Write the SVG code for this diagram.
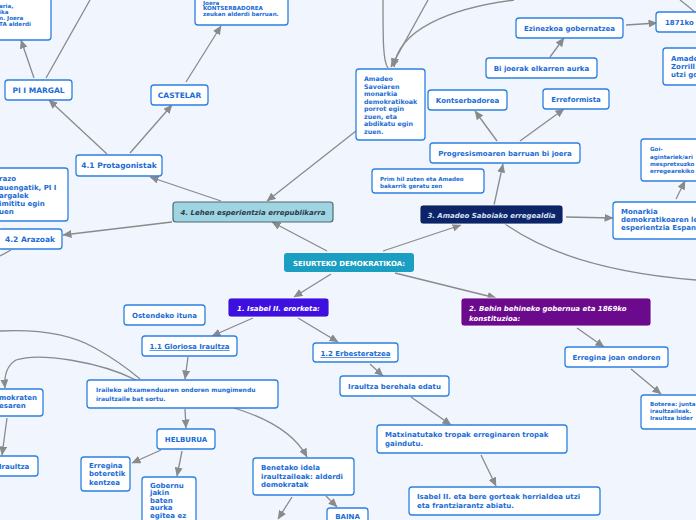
<svg xmlns="http://www.w3.org/2000/svg" width="696" height="520" viewBox="0 0 696 520">
<defs>
<marker id="arr" markerUnits="userSpaceOnUse" markerWidth="9" markerHeight="8" viewBox="0 0 9 8" refX="8.5" refY="4" orient="auto">
<path d="M0,0 L9,4 L0,8 Z" fill="#8a8a8a"/>
</marker>
<style>
.n{fill:#fff;stroke:#2b80e2;stroke-width:1.3}
.t{font-family:"DejaVu Sans",Verdana,sans-serif;font-weight:bold;fill:#1a6cd6;font-size:7px}
.s{font-size:5.6px}
.c{text-anchor:middle}
.u{text-decoration:underline}
.e{fill:none;stroke:#8a8a8a;stroke-width:1.3}
.a{marker-end:url(#arr)}
.w{fill:#fff;font-style:italic}
</style>
</defs>
<rect width="696" height="520" fill="#f1f5fd"/>
<g id="connectors">
<path class="e a" d="M327,251 L272,222"/>
<path class="e a" d="M383,251 L461,225"/>
<path class="e a" d="M331,274 L294,297"/>
<path class="e a" d="M395,273 L496,298"/>
<path class="e a" d="M221,201 L150,177"/>
<path class="e a" d="M172,222 L63,235"/>
<path class="e a" d="M356,131 L267,201"/>
<path class="e a" d="M107,154 L49,100"/>
<path class="e a" d="M130,153 L172,105"/>
<path class="e a" d="M186,82 L221,26"/>
<path class="e a" d="M34,78 L21,40"/>
<path class="e" d="M46,78 L90,0"/>
<path class="e" d="M11,250 L0,256"/>
<path class="e" d="M383,0 C383,40 383,62 388,68"/>
<path class="e a" d="M428,0 L391,67"/>
<path class="e a" d="M514,0 C450,8 398,30 394,67"/>
<path class="e" d="M680,0 Q688,6 696,13"/>
<path class="e a" d="M494,205 L503,164"/>
<path class="e a" d="M497,141 L475,111"/>
<path class="e a" d="M520,141 L564,109"/>
<path class="e a" d="M550,57 L564,38"/>
<path class="e a" d="M626,25 L657,23"/>
<path class="e a" d="M566,217 L613,218"/>
<path class="e a" d="M676,199 L685,181"/>
<path class="e" d="M505,224 Q570,270 696,280"/>
<path class="e a" d="M577,328 L604,347"/>
<path class="e a" d="M631,369 L661,394"/>
<path class="e a" d="M253,318 L212,336"/>
<path class="e a" d="M298,318 L338,342"/>
<path class="e a" d="M188,357 L185,379"/>
<path class="e a" d="M370,364 L383,376"/>
<path class="e a" d="M411,397 L451,425"/>
<path class="e a" d="M481,455 L496,486"/>
<path class="e a" d="M185,409 L186,428"/>
<path class="e a" d="M234,408 Q290,425 307,457"/>
<path class="e a" d="M182,451 L177,476"/>
<path class="e a" d="M161,450 L132,463"/>
<path class="e a" d="M292,497 L278,519"/>
<path class="e a" d="M326,496 L337,507"/>
<path class="e a" d="M136,380 C100,362 40,352 16,360 C6,366 4,376 5,388"/>
<path class="e" d="M0,331 Q60,328 95,348 Q120,362 140,379"/>
<path class="e a" d="M7,418 L2,455"/>
</g>
<g id="n-topleft"><rect class="n" x="-10" y="-10" width="61" height="50" rx="3"/>
<text class="t s" x="-1" y="8">aria,</text><text class="t s" x="-1" y="14">ika</text><text class="t s" x="-1" y="20">n. Joera</text><text class="t s" x="-1" y="26">TA alderdi</text></g>
<g id="n-top"><rect class="n" x="195" y="-10" width="93" height="35" rx="3"/>
<text class="t s" x="203" y="4.5">Joera</text><text class="t s" x="203" y="10">KONTSERBADOREA</text><text class="t s" x="203" y="16">zeukan alderdi barruan.</text></g>
<g id="n-pi"><rect class="n" x="5" y="80" width="67" height="20" rx="3"/><text class="t c" x="38.5" y="93" style="font-size:7.5px">PI I MARGAL</text></g>
<g id="n-castelar"><rect class="n" x="151" y="85" width="57" height="20" rx="3"/><text class="t c" x="179.5" y="98" style="font-size:7.5px">CASTELAR</text></g>
<g id="n-41"><rect class="n" x="76" y="155" width="86" height="21" rx="3"/><text class="t c" x="119" y="168" style="font-size:7.5px">4.1 Protagonistak</text></g>
<g id="n-arazo"><rect class="n" x="-10" y="168" width="78" height="53" rx="3"/>
<text class="t" x="-1" y="181">razo</text><text class="t" x="-1" y="190">auengatik, PI I</text><text class="t" x="-1" y="198">argalek</text><text class="t" x="-1" y="206">imititu egin</text><text class="t" x="-1" y="214">uen</text></g>
<g id="n-lehen"><rect x="173" y="202" width="160" height="20" rx="3" fill="#9fd4e1" stroke="#4d6a78" stroke-width="1.2"/><text class="t c" x="253" y="215" style="fill:#2a3b4d;font-style:italic">4. Lehen esperientzia errepublikarra</text></g>
<g id="n-42"><rect class="n" x="-2" y="229" width="64" height="20" rx="3"/><text class="t c" x="30" y="242" style="font-size:7.5px">4.2 Arazoak</text></g>
<g id="n-root"><rect x="284" y="253" width="130" height="19" rx="3" fill="#1a9fc2"/><text class="t c" x="349" y="266" style="fill:#fff">SEIURTEKO DEMOKRATIKOA:</text></g>
<g id="n-isabel"><rect x="228" y="298" width="101" height="19" rx="3" fill="#3d10e0" stroke="#fff" stroke-width="0.8"/><text class="t c w" x="278.5" y="311">1. Isabel II. erorketa:</text></g>
<g id="n-ostende"><rect class="n" x="124" y="305" width="81" height="20" rx="3"/><text class="t c" x="164.5" y="318">Ostendeko ituna</text></g>
<g id="n-11"><rect class="n" x="142" y="336" width="95" height="20" rx="3"/><text class="t c u" x="189.5" y="349">1.1 Gloriosa Iraultza</text></g>
<g id="n-12"><rect class="n" x="313" y="343" width="85" height="19" rx="3"/><text class="t c u" x="355.5" y="356">1.2 Erbesteratzea</text></g>
<g id="n-iraileko"><rect class="n" x="87" y="380" width="191" height="28" rx="3"/><text class="t" x="96" y="392" style="font-size:6px">Iraileko altxamenduaren ondoren mungimendu</text><text class="t" x="96" y="401" style="font-size:6px">iraultzaile bat sortu.</text></g>
<g id="n-edatu"><rect class="n" x="340" y="376" width="109" height="20" rx="3"/><text class="t c" x="394.5" y="389">Iraultza berehala edatu</text></g>
<g id="n-helburua"><rect class="n" x="157" y="429" width="58" height="20" rx="3"/><text class="t c" x="186" y="442">HELBURUA</text></g>
<g id="n-matx"><rect class="n" x="377" y="425" width="190" height="28" rx="3"/><text class="t" x="385" y="437">Matxinatutako tropak erreginaren tropak</text><text class="t" x="385" y="446">gaindutu.</text></g>
<g id="n-kentzea"><rect class="n" x="81" y="457" width="49" height="34" rx="3"/><text class="t" x="89" y="468">Erregina</text><text class="t" x="89" y="476">boteretik</text><text class="t" x="89" y="484.5">kentzea</text></g>
<g id="n-gobernu"><rect class="n" x="142" y="477" width="54" height="52" rx="3"/><text class="t" x="150" y="487.5">Gobernu</text><text class="t" x="150" y="495">jakin</text><text class="t" x="150" y="502.5">baten</text><text class="t" x="150" y="510">aurka</text><text class="t" x="150" y="517.5">egitea ez</text></g>
<g id="n-benetako"><rect class="n" x="253" y="458" width="101" height="37" rx="3"/><text class="t" x="261" y="470">Benetako idela</text><text class="t" x="261" y="478.5">iraultzaileak: alderdi</text><text class="t" x="261" y="487">demokratak</text></g>
<g id="n-baina"><rect class="n" x="327" y="508" width="41" height="20" rx="3"/><text class="t c" x="347.5" y="519">BAINA</text></g>
<g id="n-isabel2"><rect class="n" x="409" y="487" width="191" height="28" rx="3"/><text class="t" x="417" y="499">Isabel II. eta bere gorteak herrialdea utzi</text><text class="t" x="417" y="508">eta frantziarantz abiatu.</text></g>
<g id="n-behin"><rect x="461" y="298" width="190" height="28" rx="3" fill="#6b0a8c" stroke="#fff" stroke-width="0.8"/><text class="t w" x="469" y="310.5">2. Behin behineko gobernua eta 1869ko</text><text class="t w" x="469" y="320.5">konstituzioa:</text></g>
<g id="n-joan"><rect class="n" x="565" y="347" width="103" height="20" rx="3"/><text class="t c" x="616.5" y="360">Erregina joan ondoren</text></g>
<g id="n-boterea"><rect class="n" x="641" y="395" width="65" height="34" rx="3"/><text class="t s" x="650" y="406">Boterea: junta</text><text class="t s" x="650" y="412.5">iraultzaileak.</text><text class="t s" x="650" y="419.5">Iraultza bider</text></g>
<g id="n-mokraten"><rect class="n" x="-10" y="389" width="53" height="27" rx="3"/><text class="t" x="-1" y="400">mokraten</text><text class="t" x="-1" y="408">esaren</text></g>
<g id="n-iraultza"><rect class="n" x="-10" y="456" width="48" height="20" rx="3"/><text class="t" x="-1" y="468.5">Iraultza</text></g>
<g id="n-amadeo"><rect x="420" y="205" width="143" height="19" rx="3" fill="#0d2568" stroke="#fff" stroke-width="0.8"/><text class="t c" x="491.5" y="218" style="fill:#d5e0f3;font-style:italic">3. Amadeo Saboiako erregealdia</text></g>
<g id="n-prim"><rect class="n" x="372" y="169" width="112" height="24" rx="3"/><text class="t s" x="380" y="181">Prim hil zuten eta Amadeo</text><text class="t s" x="380" y="187.5">bakarrik geratu zen</text></g>
<g id="n-progres"><rect class="n" x="430" y="143" width="150" height="20" rx="3"/><text class="t c" x="505" y="156">Progresismoaren barruan bi joera</text></g>
<g id="n-kontser"><rect class="n" x="428" y="90" width="79" height="20" rx="3"/><text class="t c" x="467.5" y="103">Kontserbadorea</text></g>
<g id="n-erref"><rect class="n" x="543" y="89" width="66" height="20" rx="3"/><text class="t c" x="576" y="102">Erreformista</text></g>
<g id="n-bijoera"><rect class="n" x="486" y="58" width="111" height="20" rx="3"/><text class="t c" x="541.5" y="71">Bi joerak elkarren aurka</text></g>
<g id="n-ezin"><rect class="n" x="516" y="18" width="107" height="20" rx="3"/><text class="t c" x="569.5" y="31">Ezinezkoa gobernatzea</text></g>
<g id="n-1871"><rect class="n" x="656" y="12" width="60" height="20" rx="3"/><text class="t" x="665" y="25">1871ko</text></g>
<g id="n-zorrilla"><rect class="n" x="663" y="48" width="50" height="37" rx="3"/><text class="t" x="671" y="61">Amade</text><text class="t" x="671" y="69">Zorrill</text><text class="t" x="671" y="77">utzi go</text></g>
<g id="n-savoia"><rect class="n" x="356" y="69" width="69" height="71" rx="3"/><text class="t" x="364" y="81" style="font-size:6.3px">Amadeo</text><text class="t" x="364" y="88.5" style="font-size:6.3px">Savoiaren</text><text class="t" x="364" y="96" style="font-size:6.3px">monarkia</text><text class="t" x="364" y="103.5" style="font-size:6.3px">demokratikoak</text><text class="t" x="364" y="111" style="font-size:6.3px">porrot egin</text><text class="t" x="364" y="118.5" style="font-size:6.3px">zuen, eta</text><text class="t" x="364" y="126" style="font-size:6.3px">abdikatu egin</text><text class="t" x="364" y="133.5" style="font-size:6.3px">zuen.</text></g>
<g id="n-goi"><rect class="n" x="641" y="139" width="65" height="42" rx="3"/><text class="t s" x="650" y="151">Goi-</text><text class="t s" x="650" y="158.5">agintariek/ari</text><text class="t s" x="650" y="165.5">mespretxuzko</text><text class="t s" x="650" y="172.5">erregearekiko</text></g>
<g id="n-monarkia"><rect class="n" x="613" y="202" width="95" height="37" rx="3"/><text class="t" x="621" y="214">Monarkia</text><text class="t" x="621" y="222">demokratikoaren le</text><text class="t" x="621" y="230">esperientzia Espani</text></g>
</svg>
